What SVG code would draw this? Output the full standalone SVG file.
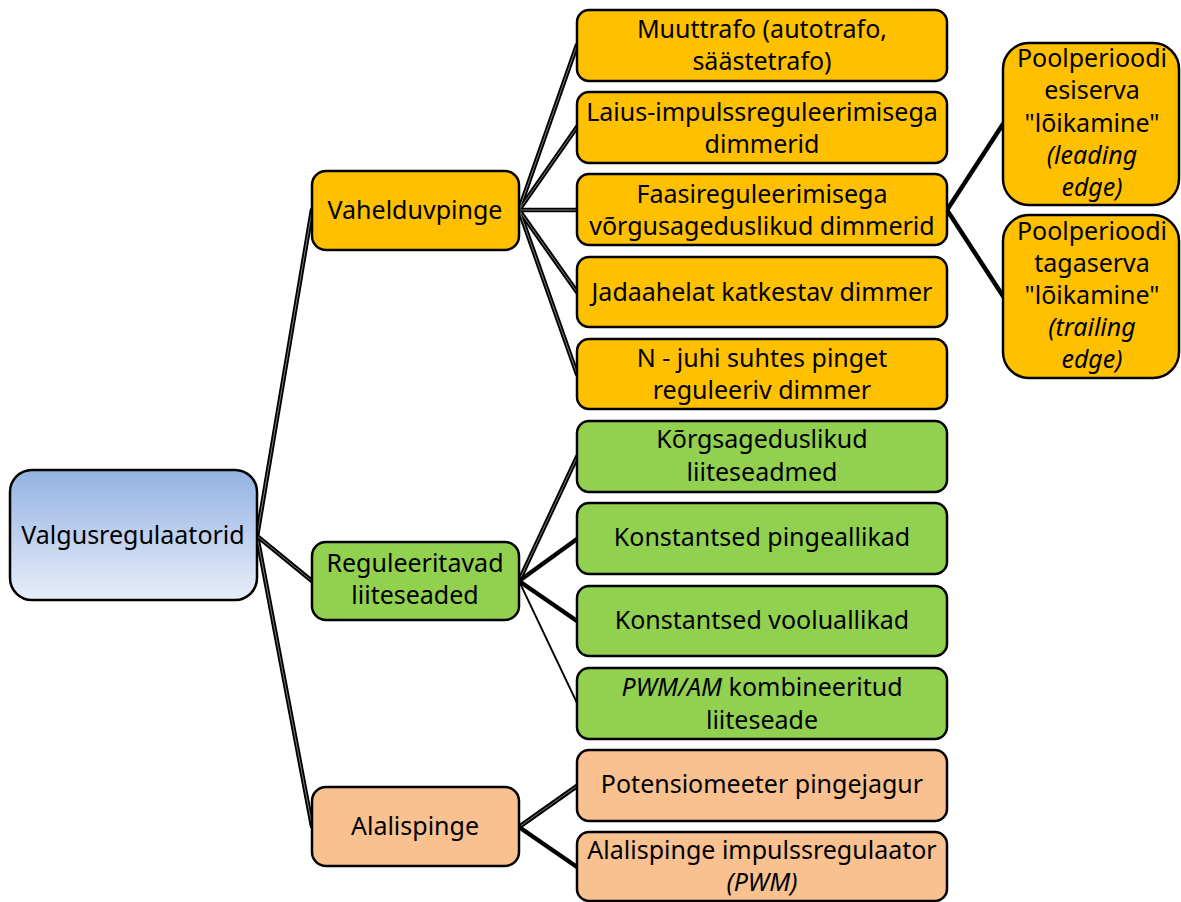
<svg xmlns="http://www.w3.org/2000/svg" width="1181" height="902" viewBox="0 0 1181 902">
  <defs>
    <linearGradient id="rootFill" x1="0" y1="0" x2="0" y2="1">
      <stop offset="0" stop-color="#93B2E2"/>
      <stop offset="1" stop-color="#E8EEF9"/>
    </linearGradient>
    <style>
      .box { stroke: #000; stroke-width: 2.5; }
      .ac { fill: #FFC000; }
      .gr { fill: #92D050; }
      .dc { fill: #F9C18F; }
      text { font-family: "Noto Sans", "Open Sans", sans-serif; font-size: 25px; fill: #000; text-anchor: middle; }
      .it { font-style: italic; }
      .dbl { stroke: #000; stroke-width: 4.6; fill: none; stroke-linecap: round; }
      .dbl-in { stroke: #9a9a9a; stroke-width: 0.8; fill: none; }
      .solid { stroke: #000; stroke-width: 4.5; fill: none; stroke-linecap: round; }
      .thin { stroke: #000; stroke-width: 1.8; fill: none; }
    </style>
  </defs>

  <rect width="1181" height="902" fill="#fff"/>

  <!-- connectors -->
  <g id="connectors">
    <g class="dbl">
      <path id="c-root-ac" d="M257,536 L312,210"/>
      <path id="c-root-gr" d="M257,536 L312,581"/>
      <path id="c-root-dc" d="M257,536 L312,826"/>
      <path id="c-ac-1" d="M519,210 L577,45"/>
      <path id="c-ac-2" d="M519,210 L577,127"/>
      <path id="c-ac-3" d="M519,210 L577,210"/>
      <path id="c-ac-4" d="M519,210 L577,292"/>
      <path id="c-ac-5" d="M519,210 L577,374"/>
      <path id="c-gr-1" d="M519,581 L577,457"/>
      <path id="c-dc-1" d="M519,827 L577,786"/>
    </g>
    <g class="dbl-in">
      <use href="#c-root-ac"/>
      <use href="#c-root-gr"/>
      <use href="#c-root-dc"/>
      <use href="#c-ac-1"/>
      <use href="#c-ac-2"/>
      <use href="#c-ac-3"/>
      <use href="#c-ac-4"/>
      <use href="#c-ac-5"/>
      <use href="#c-gr-1"/>
      <use href="#c-dc-1"/>
    </g>
    <g class="solid">
      <path d="M519,581 L577,539"/>
      <path d="M519,581 L577,621"/>
      <path d="M519,827 L577,867"/>
      <path d="M947,210 L1003,124"/>
      <path d="M947,210 L1003,296"/>
    </g>
    <path class="thin" d="M519,581 L577,703"/>
  </g>

  <!-- root -->
  <g id="node-root">
    <rect class="box" x="10" y="470" width="247" height="130" rx="22" fill="url(#rootFill)"/>
    <text x="133" y="544">Valgusregulaatorid</text>
  </g>

  <!-- second level -->
  <g id="node-ac">
    <rect class="box ac" x="312" y="171" width="207" height="79" rx="14"/>
    <text x="415" y="219">Vahelduvpinge</text>
  </g>
  <g id="node-gr">
    <rect class="box gr" x="312" y="542" width="207" height="78" rx="14"/>
    <text x="415" y="572">Reguleeritavad</text>
    <text x="415" y="604">liiteseaded</text>
  </g>
  <g id="node-dc">
    <rect class="box dc" x="312" y="787" width="207" height="79" rx="14"/>
    <text x="415" y="835">Alalispinge</text>
  </g>

  <!-- alternating voltage branch -->
  <g id="node-ac-1">
    <rect class="box ac" x="577" y="10" width="370" height="71" rx="12"/>
    <text x="762" y="38">Muuttrafo (autotrafo,</text>
    <text x="762" y="70">säästetrafo)</text>
  </g>
  <g id="node-ac-2">
    <rect class="box ac" x="577" y="92" width="370" height="71" rx="12"/>
    <text x="762" y="121">Laius-impulssreguleerimisega</text>
    <text x="762" y="153">dimmerid</text>
  </g>
  <g id="node-ac-3">
    <rect class="box ac" x="577" y="174" width="370" height="71" rx="12"/>
    <text x="762" y="203">Faasireguleerimisega</text>
    <text x="762" y="235">võrgusageduslikud dimmerid</text>
  </g>
  <g id="node-ac-4">
    <rect class="box ac" x="577" y="257" width="370" height="70" rx="12"/>
    <text x="762" y="301">Jadaahelat katkestav dimmer</text>
  </g>
  <g id="node-ac-5">
    <rect class="box ac" x="577" y="339" width="370" height="70" rx="12"/>
    <text x="762" y="367">N - juhi suhtes pinget</text>
    <text x="762" y="399">reguleeriv dimmer</text>
  </g>

  <!-- phase-cut variants -->
  <g id="node-leading">
    <rect class="box ac" x="1003" y="43" width="176" height="162" rx="26"/>
    <text x="1092" y="67">Poolperioodi</text>
    <text x="1092" y="99">esiserva</text>
    <text x="1092" y="132">"lõikamine"</text>
    <text x="1092" y="164" class="it">(leading</text>
    <text x="1092" y="196" class="it">edge)</text>
  </g>
  <g id="node-trailing">
    <rect class="box ac" x="1003" y="215" width="176" height="163" rx="26"/>
    <text x="1092" y="240">Poolperioodi</text>
    <text x="1092" y="272">tagaserva</text>
    <text x="1092" y="304">"lõikamine"</text>
    <text x="1092" y="336" class="it">(trailing</text>
    <text x="1092" y="368" class="it">edge)</text>
  </g>

  <!-- adjustable drivers branch -->
  <g id="node-gr-1">
    <rect class="box gr" x="577" y="421" width="370" height="71" rx="12"/>
    <text x="762" y="448">Kõrgsageduslikud</text>
    <text x="762" y="481">liiteseadmed</text>
  </g>
  <g id="node-gr-2">
    <rect class="box gr" x="577" y="503" width="370" height="71" rx="12"/>
    <text x="762" y="546">Konstantsed pingeallikad</text>
  </g>
  <g id="node-gr-3">
    <rect class="box gr" x="577" y="586" width="370" height="70" rx="12"/>
    <text x="762" y="629">Konstantsed vooluallikad</text>
  </g>
  <g id="node-gr-4">
    <rect class="box gr" x="577" y="668" width="370" height="71" rx="12"/>
    <text x="762" y="696"><tspan class="it">PWM/AM</tspan> kombineeritud</text>
    <text x="762" y="729">liiteseade</text>
  </g>

  <!-- direct voltage branch -->
  <g id="node-dc-1">
    <rect class="box dc" x="577" y="750" width="370" height="71" rx="12"/>
    <text x="762" y="793">Potensiomeeter pingejagur</text>
  </g>
  <g id="node-dc-2">
    <rect class="box dc" x="577" y="832" width="370" height="69" rx="12"/>
    <text x="762" y="859">Alalispinge impulssregulaator</text>
    <text x="762" y="891" class="it">(PWM)</text>
  </g>
</svg>
